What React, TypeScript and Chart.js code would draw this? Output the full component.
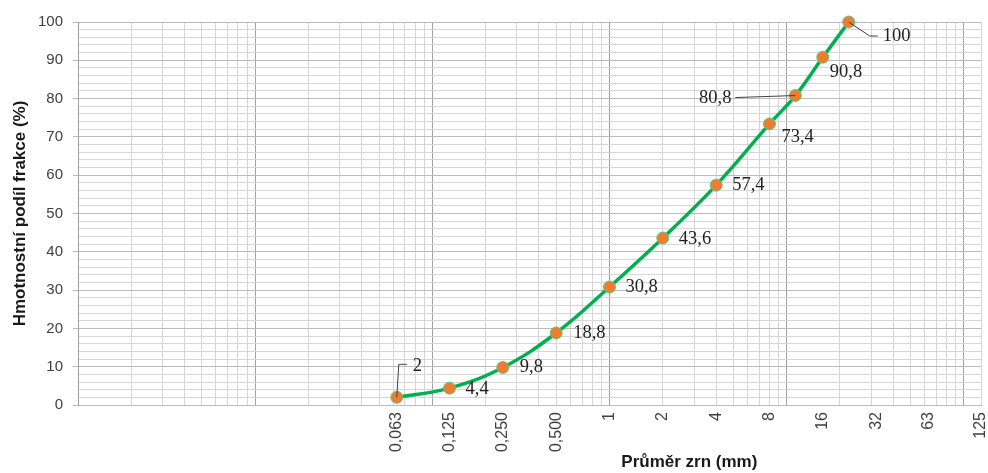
import { useEffect, useRef } from "react";
import { Chart, registerables } from "chart.js";

Chart.register(...registerables);

// ---- data ----
const grainSizes = [0.063, 0.125, 0.25, 0.5, 1, 2, 4, 8, 11.2, 16, 22.4];
const passingPercent = [2, 4.4, 9.8, 18.8, 30.8, 43.6, 57.4, 73.4, 80.8, 90.8, 100];
const pointLabels = ["2", "4,4", "9,8", "18,8", "30,8", "43,6", "57,4", "73,4", "80,8", "90,8", "100"];
const xTickValues = [0.063, 0.125, 0.25, 0.5, 1, 2, 4, 8, 16, 32, 63, 125];
const xTickLabels = ["0,063", "0,125", "0,250", "0,500", "1", "2", "4", "8", "16", "32", "63", "125"];
const xMin = 0.001;
const xMax = 125;
const yMin = 0;
const yMax = 100;
const yTitle = "Hmotnostní podíl frakce (%)";
const xTitle = "Průměr zrn (mm)";

// ---- styling / placement (not data) ----
const LINE_COLOR = "#00B050";
const POINT_COLOR = "#ED7D31";
const MINOR_GRID = "#d6d6d6";
const MAJOR_GRID = "#bbbbbb";
const DECADE_GRID = "#a0a0a0";

type Placement = { dx: number; dy: number; align: CanvasTextAlign; leader?: [number, number][] };
const labelPlacement: Placement[] = [
  { dx: 16, dy: -31, align: "left", leader: [[0, 0], [2, -33], [10, -33]] },
  { dx: 16, dy: 1, align: "left" },
  { dx: 17, dy: 0, align: "left" },
  { dx: 17, dy: 0, align: "left" },
  { dx: 16, dy: 0, align: "left" },
  { dx: 16, dy: 1, align: "left" },
  { dx: 16, dy: 0, align: "left" },
  { dx: 12, dy: 13, align: "left" },
  { dx: -64, dy: 3, align: "right", leader: [[0, 0], [-60, 2]] },
  { dx: 7, dy: 15, align: "left" },
  { dx: 34, dy: 14, align: "left", leader: [[0, 0], [21, 14], [29, 14]] },
];

function buildXTicks(): number[] {
  const vals: number[] = [];
  for (let e = -3; e <= 1; e++) {
    for (let m = 1; m <= 9; m++) vals.push(parseFloat((m * Math.pow(10, e)).toPrecision(6)));
  }
  vals.push(100);
  for (const v of xTickValues) if (!vals.some((w) => Math.abs(w - v) < 1e-9)) vals.push(v);
  vals.sort((a, b) => a - b);
  return vals;
}

function xGridColor(v: number): string {
  if (Math.abs(v - xMax) < 1e-9) return MINOR_GRID;
  const e = Math.floor(Math.log10(v) + 1e-9);
  const m = v / Math.pow(10, e);
  if (Math.abs(m - 1) < 1e-6) return DECADE_GRID;
  if (Math.abs(m - Math.round(m)) < 1e-6) return MINOR_GRID;
  return "rgba(0,0,0,0)";
}

const dataLabelPlugin = {
  id: "dataLabels",
  afterDatasetsDraw(chart: any) {
    const ctx = chart.ctx as CanvasRenderingContext2D;
    const meta = chart.getDatasetMeta(0);
    ctx.save();
    meta.data.forEach((pt: any, i: number) => {
      const p = labelPlacement[i];
      if (!p) return;
      const x = pt.x;
      const y = pt.y;
      if (p.leader) {
        ctx.beginPath();
        ctx.strokeStyle = "#404040";
        ctx.lineWidth = 1;
        p.leader.forEach(([lx, ly], k) => {
          if (k === 0) ctx.moveTo(x + lx, y + ly);
          else ctx.lineTo(x + lx, y + ly);
        });
        ctx.stroke();
      }
      ctx.font = "18.5px 'Liberation Serif', 'Times New Roman', serif";
      ctx.fillStyle = "#1f1f1f";
      ctx.textAlign = p.align;
      ctx.textBaseline = "middle";
      ctx.fillText(pointLabels[i], x + p.dx, y + p.dy);
    });
    ctx.restore();
  },
};

const xTitlePlugin = {
  id: "xTitle",
  afterDraw(chart: any) {
    const ctx = chart.ctx as CanvasRenderingContext2D;
    const a = chart.chartArea;
    ctx.save();
    ctx.font = "bold 17px 'Liberation Sans', Arial, sans-serif";
    ctx.fillStyle = "#1a1a1a";
    ctx.textAlign = "center";
    ctx.textBaseline = "middle";
    ctx.fillText(xTitle, a.left + (a.right - a.left) * 0.677, a.bottom + 57);
    ctx.restore();
  },
};

export default function App() {
  const ref = useRef<HTMLCanvasElement | null>(null);

  useEffect(() => {
    if (!ref.current) return;
    const xTicks = buildXTicks();
    const chart = new Chart(ref.current, {
      type: "line",
      data: {
        datasets: [
          {
            data: grainSizes.map((g, i) => ({ x: g, y: passingPercent[i] })),
            borderColor: LINE_COLOR,
            borderWidth: 3.5,
            tension: 0.4,
            pointRadius: 6,
            pointBackgroundColor: POINT_COLOR,
            pointBorderColor: "#5cc884",
            pointBorderWidth: 1,
            fill: false,
            clip: false,
          },
        ],
      },
      options: {
        responsive: false,
        animation: false,
        layout: { padding: { top: 22, right: 6, bottom: 0, left: 0 } },
        plugins: { legend: { display: false }, tooltip: { enabled: false }, title: { display: false } },
        scales: {
          x: {
            type: "logarithmic",
            min: xMin,
            max: xMax,
            afterBuildTicks: (scale: any) => {
              scale.ticks = xTicks.map((v) => ({ value: v }));
            },
            afterFit: (scale: any) => {
              scale.height = 68;
              scale.paddingLeft = 0;
              scale.paddingRight = 0;
            },
            grid: {
              color: (c: any) => xGridColor(c.tick ? c.tick.value : 1),
              lineWidth: 1,
              drawTicks: false,
            },
            border: { display: true, color: MAJOR_GRID },
            ticks: {
              autoSkip: false,
              minRotation: 90,
              maxRotation: 90,
              padding: 7,
              color: "#404040",
              font: { family: "'Liberation Sans', Arial, sans-serif", size: 16 },
              callback: (value: any) => {
                const idx = xTickValues.findIndex((t) => Math.abs(t - Number(value)) < 1e-9);
                return idx >= 0 ? xTickLabels[idx] : "";
              },
            },
          },
          y: {
            type: "linear",
            min: yMin,
            max: yMax,
            afterFit: (scale: any) => {
              scale.width = 78;
            },
            grid: {
              color: (c: any) => (c.tick && c.tick.value % 10 === 0 ? MAJOR_GRID : MINOR_GRID),
              tickColor: (c: any) => (c.tick && c.tick.value % 10 === 0 ? MAJOR_GRID : "rgba(0,0,0,0)"),
              tickLength: 5,
              lineWidth: 1,
            },
            border: { display: true, color: DECADE_GRID },
            ticks: {
              autoSkip: false,
              stepSize: 2,
              padding: 10,
              color: "#404040",
              font: { family: "'Liberation Sans', Arial, sans-serif", size: 15 },
              callback: (value: any) => (Number(value) % 10 === 0 ? String(value) : ""),
            },
            title: {
              display: true,
              text: yTitle,
              color: "#1a1a1a",
              font: { family: "'Liberation Sans', Arial, sans-serif", size: 17, weight: "bold" },
              padding: { top: 10, bottom: 0 },
            },
          },
        },
      },
      plugins: [dataLabelPlugin, xTitlePlugin],
    } as any);
    return () => chart.destroy();
  }, []);

  return (
    <div style={{ position: "absolute", left: 0, top: 0, width: 988, height: 473, background: "#fff" }}>
      <canvas ref={ref} width={988} height={473} style={{ display: "block" }} />
    </div>
  );
}
